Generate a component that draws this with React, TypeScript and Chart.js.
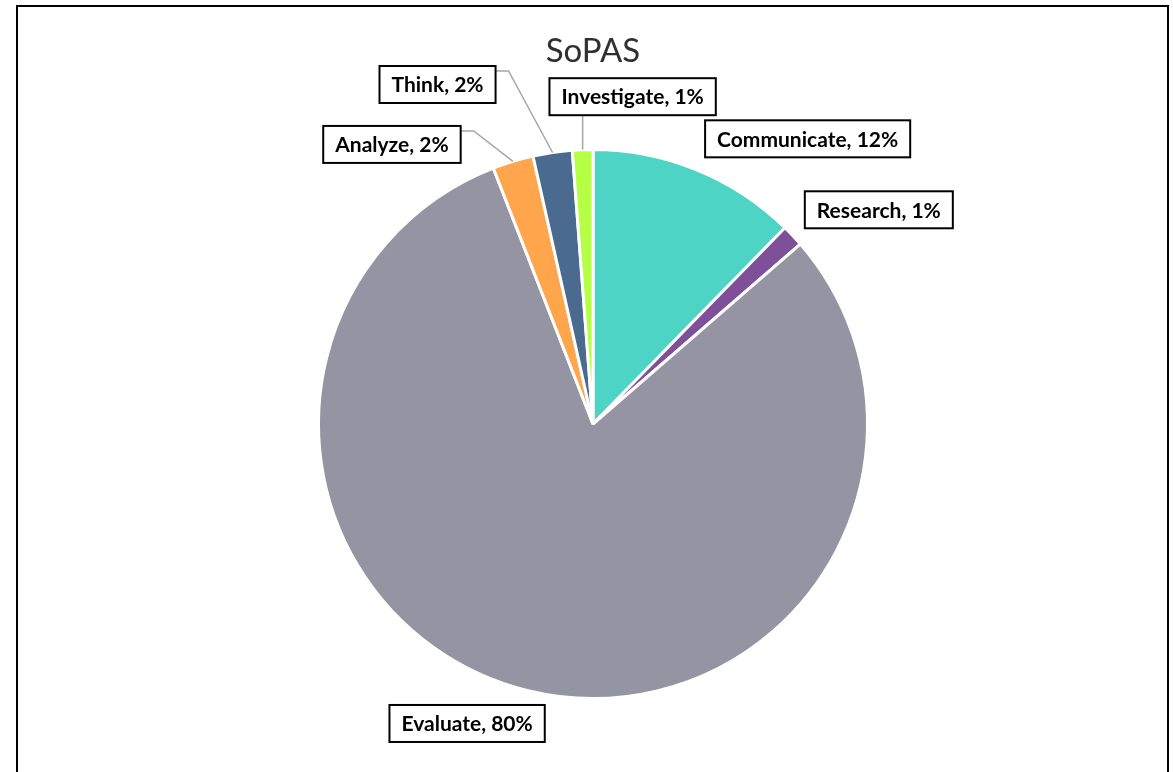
import React, { useEffect, useRef } from "react";
import { Chart, registerables } from "chart.js";

Chart.register(...registerables);

const chartTitle = "SoPAS";
const categories = ["Communicate", "Research", "Evaluate", "Analyze", "Think", "Investigate"];
const values = [12.3, 1.3, 80.3, 2.4, 2.3, 1.2];
const colors = ["#4DD4C4", "#7E509A", "#9494A3", "#FFA64D", "#4A6A8F", "#B5FF45"];

// label box centre offsets relative to each slice's outer mid-point (layout only)
const labelOffsets: [number, number][] = [
  [111, -31],
  [86, -26],
  [-60, 33],
  [-121, -17],
  [-115, -68],
  [50, -53],
];
const hasLeader = [false, false, false, true, true, true];

const labelPlugin = {
  id: "boxLabels",
  afterDatasetsDraw(chart: any) {
    const ctx = chart.ctx as CanvasRenderingContext2D;
    const meta = chart.getDatasetMeta(0);
    const total = values.reduce((a, b) => a + b, 0);
    ctx.save();
    // title
    const first = meta.data[0];
    ctx.fillStyle = "#303030";
    ctx.font = "33px Lato";
    ctx.textAlign = "center";
    ctx.textBaseline = "middle";
    ctx.fillText(chartTitle, first.x, 51);

    ctx.font = "bold 21px Lato";
    meta.data.forEach((arc: any, i: number) => {
      const p = arc.getProps(["x", "y", "startAngle", "endAngle", "outerRadius"], true);
      const mid = (p.startAngle + p.endAngle) / 2;
      const px = p.x + Math.cos(mid) * p.outerRadius;
      const py = p.y + Math.sin(mid) * p.outerRadius;
      const cx = px + labelOffsets[i][0];
      const cy = py + labelOffsets[i][1];
      const text = `${categories[i]}, ${Math.round((values[i] / total) * 100)}%`;
      const w = ctx.measureText(text).width + 24;
      const h = 37;
      const bx = cx - w / 2;
      const by = cy - h / 2;
      if (hasLeader[i]) {
        ctx.strokeStyle = "#A6A6A6";
        ctx.lineWidth = 1.5;
        ctx.beginPath();
        if (px > bx && px < bx + w) {
          ctx.moveTo(px, by + h);
          ctx.lineTo(px, py);
        } else {
          const sx = px > cx ? bx + w : bx;
          const dir = px > cx ? 1 : -1;
          ctx.moveTo(sx, by + 5);
          ctx.lineTo(sx + dir * 13, by + 5);
          ctx.lineTo(px, py);
        }
        ctx.stroke();
      }
      ctx.fillStyle = "#ffffff";
      ctx.fillRect(bx, by, w, h);
      ctx.strokeStyle = "#000000";
      ctx.lineWidth = 2;
      ctx.strokeRect(bx, by, w, h);
      ctx.fillStyle = "#000000";
      ctx.textAlign = "center";
      ctx.textBaseline = "middle";
      ctx.fillText(text, cx, cy + 1);
    });
    ctx.restore();
  },
};

export default function App() {
  const ref = useRef<HTMLCanvasElement | null>(null);
  useEffect(() => {
    if (!ref.current) return;
    const chart = new Chart(ref.current, {
      type: "pie",
      data: {
        labels: categories,
        datasets: [
          {
            data: values,
            backgroundColor: colors,
            borderColor: "#ffffff",
            borderWidth: 3,
          },
        ],
      },
      options: {
        responsive: false,
        animation: false,
        layout: { padding: { left: 317, right: 304, top: 148, bottom: 72 } },
        plugins: {
          legend: { display: false },
          title: { display: false },
          tooltip: { enabled: false },
        },
      },
      plugins: [labelPlugin],
    });
    return () => chart.destroy();
  }, []);
  return (
    <div
      style={{
        position: "fixed",
        left: 0,
        top: 0,
        width: 1173,
        height: 772,
        overflow: "hidden",
        background: "#fff",
      }}
    >
      <div
        style={{
          position: "absolute",
          left: 16,
          top: 5,
          width: 1153,
          height: 800,
          border: "2px solid #000",
          boxSizing: "border-box",
        }}
      />
      <canvas
        ref={ref}
        width={1173}
        height={772}
        style={{ position: "absolute", left: 0, top: 0, width: 1173, height: 772 }}
      />
    </div>
  );
}
